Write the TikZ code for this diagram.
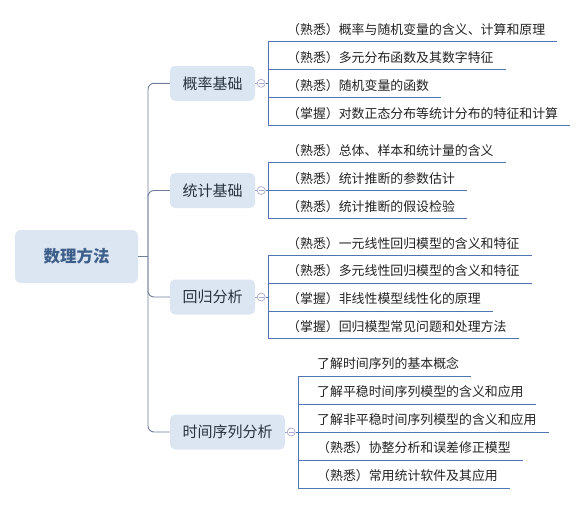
\documentclass[tikz,border=0pt]{standalone}
\usepackage{fontspec}
\setmainfont{Noto Sans CJK SC}
\usetikzlibrary{calc}
\definecolor{nodefill}{HTML}{DCE6F2}
\definecolor{trunk}{HTML}{6E7E98}
\definecolor{brk}{HTML}{4F76B0}
\definecolor{knob}{HTML}{A6A8D0}
\definecolor{roottext}{HTML}{3E5F8A}
\definecolor{subtext}{HTML}{26323F}
\definecolor{itemtext}{HTML}{222222}
\begin{document}
\begin{tikzpicture}[x=1pt,y=-1pt,
 rootbox/.style={fill=nodefill, rounded corners=6pt, minimum width=123pt, minimum height=53pt, inner sep=0pt, font=\fontsize{16.5}{18}\selectfont\bfseries, text=roottext},
 subbox/.style={fill=nodefill, rounded corners=5pt, minimum height=35pt, inner sep=0pt, font=\fontsize{15}{17}\selectfont, text=subtext},
 item/.style={anchor=south west, inner sep=0pt, text depth=7pt, text height=12pt, font=\fontsize{12.9}{14}\selectfont, text=itemtext, execute at begin node=\hspace*{19pt}, execute at end node=\hspace*{12pt}},
 trunkline/.style={draw=trunk, line width=0.9pt},
 brkline/.style={draw=brk, line width=0.9pt},
 knobline/.style={draw=knob, line width=0.7pt},
 knobc/.style={circle, draw=knob, line width=0.7pt, minimum size=8pt, inner sep=0pt,
   path picture={\draw[knob, line width=0.6pt] ($(path picture bounding box.center)+(-2.3pt,0pt)$) -- ($(path picture bounding box.center)+(2.3pt,0pt)$);}},
]
\useasboundingbox (0,0) rectangle (587,504);

% root and subtopics
\node[rootbox] (root) at (76.5,256.5) {数理方法};
\node[subbox, minimum width=85pt] (s1) at (212.5,83.3) {概率基础};
\node[subbox, minimum width=85pt] (s2) at (212.5,190.5) {统计基础};
\node[subbox, minimum width=85pt] (s3) at (212.5,297) {回归分析};
\node[subbox, minimum width=115pt] (s4) at (227.5,432) {时间序列分析};

% trunk
\coordinate (tj) at (148,256.5);
\draw[trunkline] (root.east) -- (tj);
\draw[trunkline, rounded corners=6pt] (s1.west) -| (tj) |- (s4.west);
\draw[trunkline, rounded corners=6pt] (tj) |- (s2.west);
\draw[trunkline, rounded corners=6pt] (tj) |- (s3.west);

% knobs
\foreach \s in {s1,s2,s3,s4}{
  \node[knobc] (k\s) at ($(\s.east)+(6,0)$) {};
  \draw[knobline] (\s.east) -- (k\s.west);
}

% group 1
\node[item] (a1) at (268,41.5) {（熟悉）概率与随机变量的含义、计算和原理};
\node[item] (a2) at (268,69.4) {（熟悉）多元分布函数及其数字特征};
\node[item] (a3) at (268,97.3) {（熟悉）随机变量的函数};
\node[item] (a4) at (268,125.2) {（掌握）对数正态分布等统计分布的特征和计算};
\draw[brkline] (a1.south west) -- (a4.south west);
\foreach \i in {a1,a2,a3,a4}{\draw[brkline] (\i.south west) -- (\i.south east);}
\draw[brkline] (ks1.east) -- (a1.south west |- ks1.east);

% group 2
\node[item] (b1) at (268,162.7) {（熟悉）总体、样本和统计量的含义};
\node[item] (b2) at (268,190.5) {（熟悉）统计推断的参数估计};
\node[item] (b3) at (268,218.3) {（熟悉）统计推断的假设检验};
\draw[brkline] (b1.south west) -- (b3.south west);
\foreach \i in {b1,b2,b3}{\draw[brkline] (\i.south west) -- (\i.south east);}
\draw[brkline] (ks2.east) -- (b1.south west |- ks2.east);

% group 3
\node[item] (c1) at (268,255.2) {（熟悉）一元线性回归模型的含义和特征};
\node[item] (c2) at (268,283.1) {（熟悉）多元线性回归模型的含义和特征};
\node[item] (c3) at (268,311) {（掌握）非线性模型线性化的原理};
\node[item] (c4) at (268,338.9) {（掌握）回归模型常见问题和处理方法};
\draw[brkline] (c1.south west) -- (c4.south west);
\foreach \i in {c1,c2,c3,c4}{\draw[brkline] (\i.south west) -- (\i.south east);}
\draw[brkline] (ks3.east) -- (c1.south west |- ks3.east);

% group 4
\node[item] (d1) at (298,376) {了解时间序列的基本概念};
\node[item] (d2) at (298,404) {了解平稳时间序列模型的含义和应用};
\node[item] (d3) at (298,432) {了解非平稳时间序列模型的含义和应用};
\node[item] (d4) at (298,460) {（熟悉）协整分析和误差修正模型};
\node[item] (d5) at (298,488) {（熟悉）常用统计软件及其应用};
\draw[brkline] (d1.south west) -- (d5.south west);
\foreach \i in {d1,d2,d3,d4,d5}{\draw[brkline] (\i.south west) -- (\i.south east);}
\draw[brkline] (ks4.east) -- (d1.south west |- ks4.east);
\end{tikzpicture}
\end{document}
